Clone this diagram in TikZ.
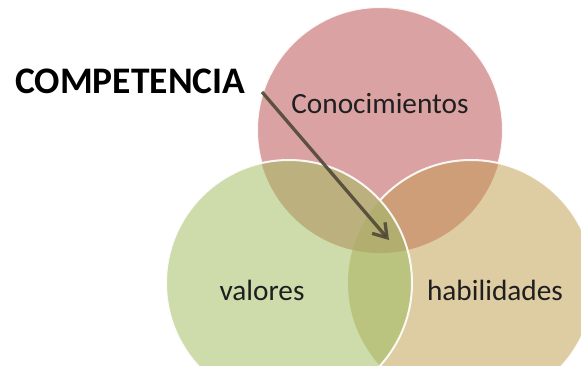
\documentclass[tikz,border=0pt]{standalone}
\usepackage{fontspec}
\setmainfont{Carlito}
\usetikzlibrary{arrows.meta}
\definecolor{cred}{RGB}{219,162,163}
\definecolor{cgreen}{RGB}{205,220,170}
\definecolor{ctan}{RGB}{222,204,162}
\definecolor{crg}{RGB}{189,176,127}
\definecolor{crt}{RGB}{206,158,121}
\definecolor{cgt}{RGB}{186,196,126}
\definecolor{crgt}{RGB}{178,174,111}
\definecolor{carrow}{RGB}{80,72,55}
\tikzset{
  rim/.style={draw=white, line width=2bp, draw opacity=0.9},
  lbl/.style={font=\fontsize{29.3bp}{32bp}\selectfont, text=black!88, anchor=base, inner sep=0pt},
  title/.style={font=\fontsize{37.5bp}{40bp}\selectfont\bfseries, text=black, anchor=base west, inner sep=0pt},
  pointer/.style={draw=carrow, line width=3.3bp, draw opacity=0.9,
    -{Straight Barb[length=13bp,width=17bp,line width=3.3bp]}}
}
\begin{document}
\begin{tikzpicture}[x=1bp,y=-1bp]
\useasboundingbox (0,0) rectangle (581,365);
\clip (0,0) rectangle (581,365);
\fill[white] (0,0) rectangle (581,365);
\coordinate (R) at (380,130);
\coordinate (G) at (289,283);
\coordinate (T) at (471,283);
\def\rad{123bp}
% red circle
\fill[cred] (R) circle[radius=\rad];
\draw[rim] (R) circle[radius=\rad];
% tan circle
\fill[ctan] (T) circle[radius=\rad];
\begin{scope}
  \clip (R) circle[radius=\rad];
  \fill[crt] (T) circle[radius=\rad];
\end{scope}
\draw[rim] (T) circle[radius=\rad];
% green circle
\fill[cgreen] (G) circle[radius=\rad];
\begin{scope}
  \clip (R) circle[radius=\rad];
  \fill[crg] (G) circle[radius=\rad];
\end{scope}
\begin{scope}
  \clip (T) circle[radius=\rad];
  \fill[cgt] (G) circle[radius=\rad];
\end{scope}
\begin{scope}
  \clip (R) circle[radius=\rad];
  \clip (T) circle[radius=\rad];
  \fill[crgt] (G) circle[radius=\rad];
\end{scope}
\draw[rim] (G) circle[radius=\rad];
% labels
\node[lbl] (con) at (380,113) {Conocimientos};
\node[lbl] (val) at (262,300) {valores};
\node[lbl] (hab) at (495,300) {habilidades};
\node[title] (comp) at (15,93) {COMPETENCIA};
% arrow
\coordinate (as) at (262,92);
\coordinate (ae) at (389,240);
\draw[pointer] (as) -- (ae);
\end{tikzpicture}
\end{document}
